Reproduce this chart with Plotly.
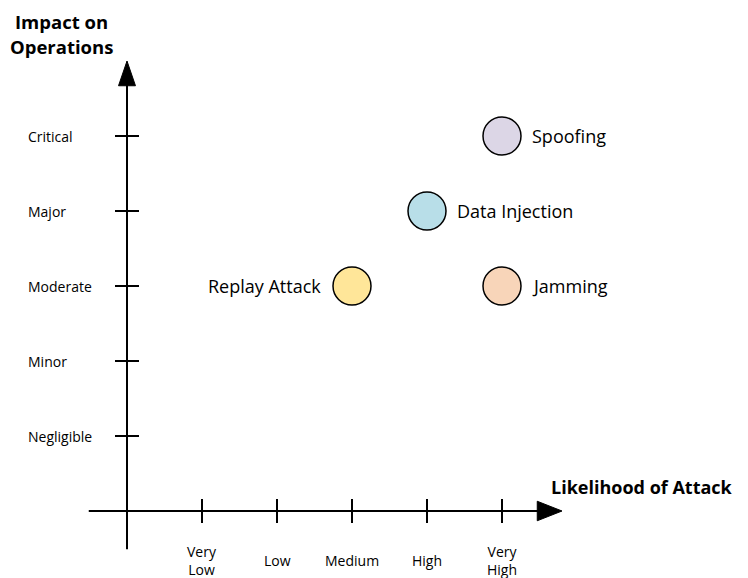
import plotly.graph_objects as go

# ---- data ----
x_levels = ["Very<br>Low", "Low", "Medium", "High", "Very<br>High"]
y_levels = ["Negligible", "Minor", "Moderate", "Major", "Critical"]
threats = ["Spoofing", "Data Injection", "Replay Attack", "Jamming"]
likelihood = [5, 4, 3, 5]
impact = [5, 4, 3, 3]
colors = ["#DCD6E6", "#B8DEE8", "#FFE699", "#F8D5B9"]
label_side = ["right", "right", "left", "right"]

FONT = "Open Sans"
fig = go.Figure()

# pixel mapping (figure px; page has 8px body margin): origin at (119, 503), 75 px per unit
W, H = 740, 570
ox, oy, u = 119, 503, 75
xr = [(0 - ox) / u, (W - ox) / u]
yr = [(oy - H) / u, (oy - 0) / u]

shapes = []
line = dict(color="black", width=2)
# axes
shapes.append(dict(type="line", x0=-0.51, x1=5.5, y0=0, y1=0, line=line))
shapes.append(dict(type="line", x0=0, x1=0, y0=-0.51, y1=5.7, line=line))
# arrowheads
shapes.append(dict(type="path", path="M 5.47,-0.13 L 5.8,0 L 5.47,0.13 Z",
                   fillcolor="black", line=dict(color="black", width=1)))
shapes.append(dict(type="path", path="M -0.113,5.67 L 0,6.0 L 0.113,5.67 Z",
                   fillcolor="black", line=dict(color="black", width=1)))
# ticks
for i in range(1, len(x_levels) + 1):
    shapes.append(dict(type="line", x0=i, x1=i, y0=-0.16, y1=0.16, line=line))
for j in range(1, len(y_levels) + 1):
    shapes.append(dict(type="line", x0=-0.16, x1=0.16, y0=j, y1=j, line=line))

annotations = []
for i, lab in enumerate(x_levels, start=1):
    annotations.append(dict(x=i, y=-0.66, text=lab, showarrow=False,
                            xanchor="center", yanchor="middle",
                            font=dict(family=FONT, size=14, color="black")))
for j, lab in enumerate(y_levels, start=1):
    annotations.append(dict(x=-1.35, y=j, text=lab, showarrow=False,
                            xanchor="left", yanchor="middle",
                            font=dict(family=FONT, size=14, color="black")))
# axis titles
annotations.append(dict(x=-0.88, y=6.527, text="<b>Impact on</b>",
                        showarrow=False, xanchor="center", yanchor="middle",
                        borderpad=0,
                        font=dict(family=FONT, size=18.5, color="black")))
annotations.append(dict(x=-0.88, y=6.2, text="<b>Operations</b>",
                        showarrow=False, xanchor="center", yanchor="middle",
                        font=dict(family=FONT, size=18.5, color="black")))
annotations.append(dict(x=5.62, y=0.32, text="<b>Likelihood of Attack</b>",
                        showarrow=False, xanchor="left", yanchor="middle",
                        font=dict(family=FONT, size=18, color="black")))

fig.add_trace(go.Scatter(
    x=likelihood, y=impact, mode="markers",
    marker=dict(size=38, color=colors, line=dict(color="black", width=1.5)),
    hoverinfo="text", text=threats, showlegend=False))

for t, xv, yv, side in zip(threats, likelihood, impact, label_side):
    annotations.append(dict(x=xv, y=yv, text=t, showarrow=False,
                            xanchor="left" if side == "right" else "right",
                            yanchor="middle",
                            xshift=28 if side == "right" else -29,
                            font=dict(family=FONT, size=18, color="black")))

fig.update_layout(
    width=W, height=H,
    margin=dict(l=0, r=0, t=0, b=0),
    paper_bgcolor="white", plot_bgcolor="white",
    xaxis=dict(range=xr, visible=False, fixedrange=True),
    yaxis=dict(range=yr, visible=False, fixedrange=True),
    shapes=shapes, annotations=annotations,
)
fig.write_html("out.html")
